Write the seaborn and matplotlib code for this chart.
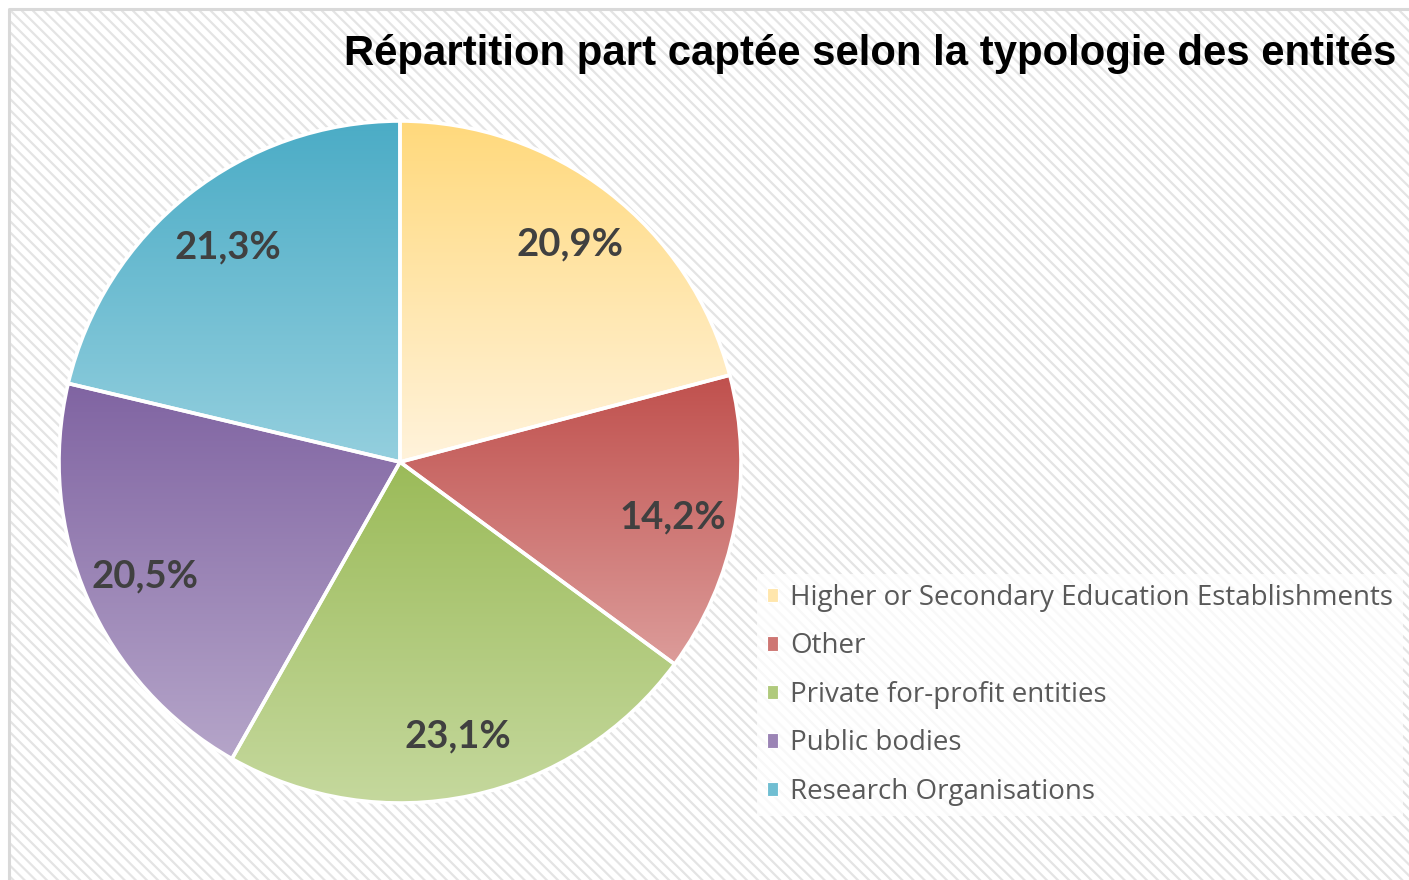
"""Pie chart: share captured by entity type, with gradient wedges."""
import numpy as np
import matplotlib.pyplot as plt
import matplotlib.colors as mcolors
from matplotlib.patches import Rectangle
import seaborn as sns

TITLE = "Répartition part captée selon la typologie des entités"
CATEGORIES = [
    "Higher or Secondary Education Establishments",
    "Other",
    "Private for-profit entities",
    "Public bodies",
    "Research Organisations",
]
SHARES = [20.9, 14.2, 23.1, 20.5, 21.3]
# (top colour, bottom colour) for each wedge gradient
TOP_COLORS = ["#ffd97c", "#c0504d", "#9bbb59", "#8064a2", "#4bacc6"]
BOTTOM_COLORS = ["#fff3dc", "#dc9c9a", "#c6d99f", "#b5a5c9", "#94cfde"]

W, H = 1409, 880
CENTER = (400, H - 462)
RADIUS = 341


def _pct(p):
    return f"{p:.1f}%".replace(".", ",")


def main():
    sns.set_theme(style="white")
    plt.rcParams["font.family"] = ["Lato", "DejaVu Sans"]
    plt.rcParams["hatch.linewidth"] = 1.6

    fig = plt.figure(figsize=(W / 100, H / 100), dpi=100)
    ax = fig.add_axes([0, 0, 1, 1])

    # striped chart area background and its border
    ax.add_patch(Rectangle((9, -5), W, H - 9 + 5, facecolor="white",
                           edgecolor="#e4e4e4", hatch="\\\\\\", linewidth=0, zorder=0))
    ax.plot([9, 9, W + 5], [-5, H - 9, H - 9], color="#d9d9d9", lw=2.2, zorder=1)

    wedges, _, autotexts = ax.pie(
        SHARES, center=CENTER, radius=RADIUS, startangle=90, counterclock=False,
        autopct=_pct, pctdistance=0.815, frame=True,
        wedgeprops=dict(edgecolor="white", linewidth=2.6),
        textprops=dict(fontsize=27.5, fontweight="bold", color="#404040"),
    )
    ax.set_xlim(0, W)
    ax.set_ylim(0, H)
    ax.axis("off")

    # vertical gradient inside each wedge
    for wedge, top, bottom in zip(wedges, TOP_COLORS, BOTTOM_COLORS):
        verts = wedge.get_path().vertices
        x0, y0 = verts.min(axis=0)
        x1, y1 = verts.max(axis=0)
        cmap = mcolors.LinearSegmentedColormap.from_list("g", [bottom, top])
        grad = np.linspace(0, 1, 256).reshape(-1, 1)
        im = ax.imshow(grad, cmap=cmap, origin="lower", aspect="auto",
                       extent=(x0, x1, y0, y1), zorder=1.5)
        im.set_clip_path(wedge)
        wedge.set_facecolor("none")
        wedge.set_zorder(2)
    for t in autotexts:
        t.set_zorder(3)
        t.set_va("center_baseline")

    handles = [Rectangle((0, 0), 1, 1, facecolor=mcolors.to_hex(
        np.mean([mcolors.to_rgb(a), mcolors.to_rgb(b)], axis=0)), edgecolor="white", lw=0.8)
        for a, b in zip(TOP_COLORS, BOTTOM_COLORS)]
    leg = ax.legend(handles, CATEGORIES, loc="upper left",
                    bbox_to_anchor=(757 / W, 1 - 574 / H),
                    frameon=True, fancybox=False, borderpad=0.35,
                    handlelength=0.42, handleheight=0.42, handletextpad=0.42,
                    labelspacing=0.74, labelcolor="#595959", borderaxespad=0,
                    prop=dict(family=["Open Sans", "DejaVu Sans"], size=20))
    leg.get_frame().set_facecolor("white")
    leg.get_frame().set_alpha(0.75)
    leg.get_frame().set_linewidth(0)

    fig.text(344 / W, 1 - 65 / H, TITLE, fontsize=30.2, fontweight="bold",
             family=["Liberation Sans", "DejaVu Sans"], color="black",
             ha="left", va="baseline")

    fig.savefig("out.png", dpi=100)


if __name__ == "__main__":
    main()
